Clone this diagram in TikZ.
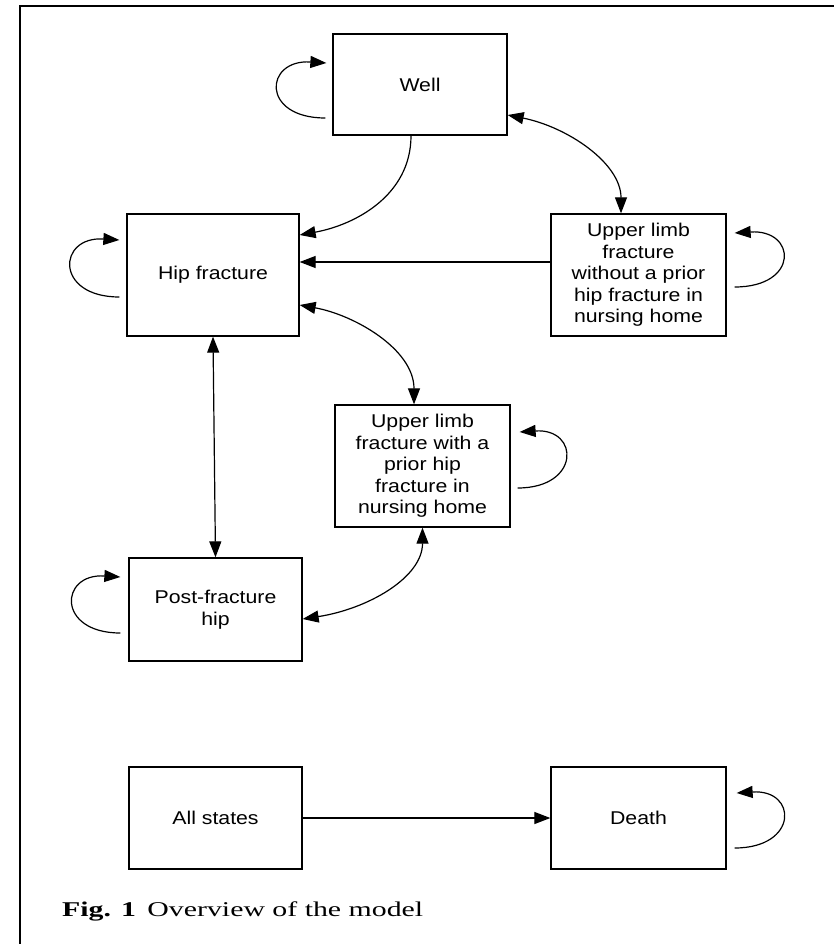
\documentclass[tikz,border=0pt]{standalone}
\usepackage{fontspec}
\setmainfont{Liberation Sans}[FakeStretch=1.15]
\newfontfamily\capfont{Liberation Serif}[FakeStretch=1.42]
\usetikzlibrary{arrows.meta}
\begin{document}
\begin{tikzpicture}[x=1pt,y=-1pt,
  state/.style={draw, line width=1.3pt, align=center, inner sep=0pt,
    font=\fontsize{18.5}{21.5}\selectfont},
  conn/.style={line width=1.2pt},
  >={Triangle[length=16pt,width=12pt]}]
\useasboundingbox (0,0) rectangle (834,944);
\draw[line width=1.6pt] (20,944) -- (20,6) -- (834,6);

\node[state, minimum width=174pt, minimum height=101pt] (well) at (420,84.5) {Well};
\node[state, minimum width=172pt, minimum height=122pt] (hip) at (213,275) {Hip fracture};
\node[state, minimum width=175pt, minimum height=122pt] (uwo) at (638.5,275) {Upper limb\\fracture\\without a prior\\hip fracture in\\nursing home};
\node[state, minimum width=175pt, minimum height=122pt] (uw) at (422.5,466) {Upper limb\\fracture with a\\prior hip\\fracture in\\nursing home};
\node[state, minimum width=173pt, minimum height=103pt] (post) at (215.5,609.5) {Post-fracture\\hip};
\node[state, minimum width=173pt, minimum height=102pt] (all) at (215.5,818) {All states};
\node[state, minimum width=175pt, minimum height=102pt] (death) at (638.5,818) {Death};

% self loops
\draw[conn,->] ([xshift=-7pt,yshift=-33.5pt]well.west) .. controls +(-65,0) and +(-62,-4) .. ([xshift=-6pt,yshift=21.5pt]well.west);
\draw[conn,->] ([xshift=-7pt,yshift=-22pt]hip.west) .. controls +(-65,0) and +(-62,-4) .. ([xshift=-7pt,yshift=35pt]hip.west);
\draw[conn,->] ([xshift=8pt,yshift=-12pt]uwo.east) .. controls +(65,0) and +(62,-4) .. ([xshift=8pt,yshift=42pt]uwo.east);
\draw[conn,->] ([xshift=7pt,yshift=-22pt]uw.east) .. controls +(63,0) and +(60,-4) .. ([xshift=9pt,yshift=34pt]uw.east);
\draw[conn,->] ([xshift=-8pt,yshift=-23.5pt]post.west) .. controls +(-64,0) and +(-61,-4) .. ([xshift=-8pt,yshift=32.5pt]post.west);
\draw[conn,->] ([xshift=8pt,yshift=-30pt]death.east) .. controls +(64,0) and +(61,-4) .. ([xshift=10pt,yshift=25pt]death.east);

% transitions
\draw[conn,->] ([xshift=-9pt]well.south) .. controls +(0,60) and +(55,-10) .. ([yshift=40pt]hip.east);
\draw[conn,<->] ([yshift=-30.5pt]well.east) .. controls +(60,12) and +(0,-50) .. ([xshift=-17.5pt]uwo.north);
\draw[conn,->] ([yshift=13pt]uwo.west) -- ([yshift=13pt]hip.east);
\draw[conn,<->] ([yshift=-30pt]hip.east) .. controls +(55,10) and +(0,-55) .. ([xshift=-8.5pt]uw.north);
\draw[conn,<->] (hip.south) -- (post.north);
\draw[conn,<->] (uw.south) .. controls +(0,50) and +(65,-10) .. ([yshift=-9.5pt]post.east);
\draw[conn,->] (all.east) -- (death.west);

\node[anchor=west, inner sep=0pt, font=\capfont\fontsize{21}{25}\selectfont] (cap) at (62,911) {\textbf{Fig. 1}\hspace{0.55em}Overview of the model};
\end{tikzpicture}
\end{document}
